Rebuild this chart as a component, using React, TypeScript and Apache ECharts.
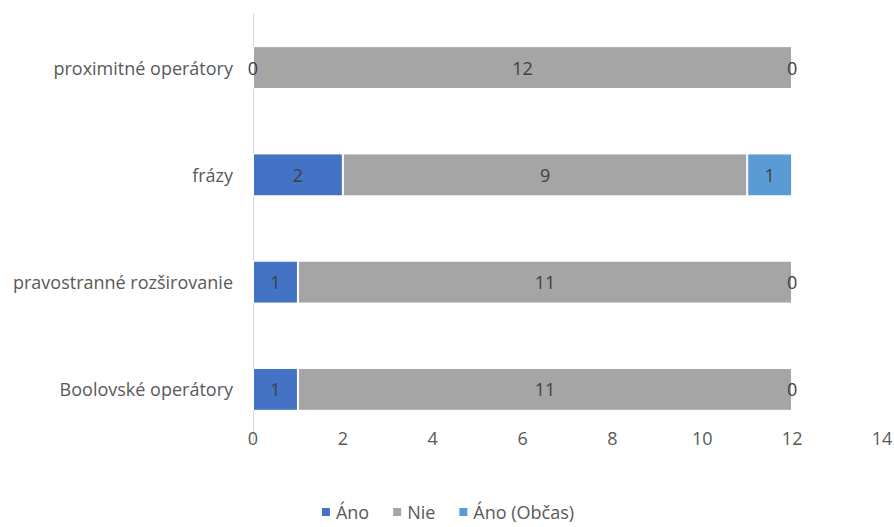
import React, { useEffect, useRef } from "react";
import * as echarts from "echarts";

const categories = ["Boolovské operátory", "pravostranné rozširovanie", "frázy", "proximitné operátory"];
const ano = [1, 1, 2, 0];
const nie = [11, 11, 9, 12];
const anoObcas = [0, 0, 1, 0];
const xTicks = [0, 2, 4, 6, 8, 10, 12, 14];

const FONT = "'Open Sans', sans-serif";
const TXT = "#595959";

export default function App() {
  const ref = useRef<HTMLDivElement>(null);
  useEffect(() => {
    if (!ref.current) return;
    const chart = echarts.init(ref.current, undefined, { renderer: "svg" });
    const label = {
      show: true,
      position: "inside" as const,
      color: "#404040",
      fontSize: 18,
      fontFamily: FONT,
    };
    const mk = (name: string, data: number[], color: string) => ({
      name,
      type: "bar" as const,
      stack: "s",
      data,
      barWidth: "40%",
      itemStyle: { color, borderColor: "#ffffff", borderWidth: 1 },
      label,
    });
    chart.setOption({
      animation: false,
      textStyle: { fontFamily: FONT },
      grid: { left: 253, right: 12, top: 14, bottom: 84, outerBoundsMode: "none", containLabel: false },
      xAxis: {
        type: "value",
        min: xTicks[0],
        max: xTicks[xTicks.length - 1],
        interval: 2,
        axisLine: { show: false },
        axisTick: { show: false },
        splitLine: { show: false },
        axisLabel: { color: TXT, fontSize: 18, fontFamily: FONT, margin: -14 },
      },
      yAxis: {
        type: "category",
        data: categories,
        axisLine: { show: true, lineStyle: { color: "#d9d9d9", width: 1 } },
        axisTick: { show: false },
        axisLabel: { color: TXT, fontSize: 18, fontFamily: FONT, margin: 20 },
      },
      legend: {
        top: 502,
        left: "center",
        padding: 0,
        itemWidth: 10,
        itemHeight: 10,
        itemGap: 22,
        icon: "rect",
        textStyle: { color: TXT, fontSize: 18, fontFamily: FONT, lineHeight: 20 },
        data: ["Áno", "Nie", "Áno (Občas)"],
      },
      series: [
        mk("Áno", ano, "#4472C4"),
        mk("Nie", nie, "#A5A5A5"),
        mk("Áno (Občas)", anoObcas, "#5B9BD5"),
      ],
    });
    return () => chart.dispose();
  }, []);
  return (
    <div
      ref={ref}
      style={{ position: "absolute", left: 0, top: 0, width: 894, height: 527 }}
    />
  );
}
